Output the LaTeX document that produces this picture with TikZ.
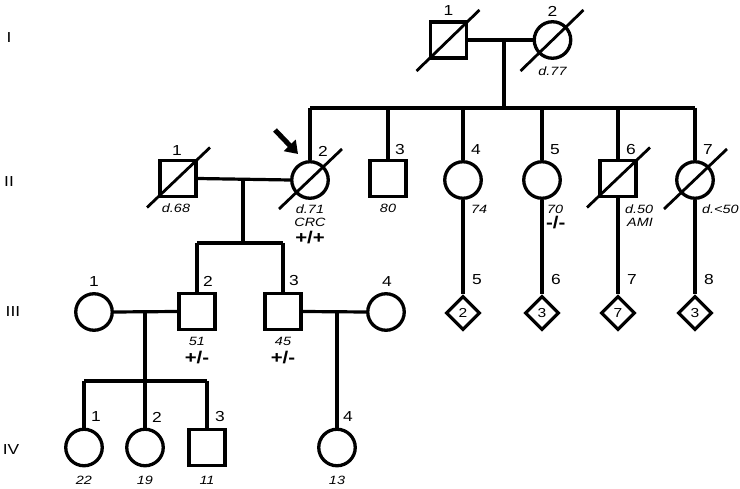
\documentclass[tikz,border=0pt]{standalone}
\usepackage{fontspec}
\setmainfont{Liberation Sans}[FakeStretch=1.2]
\usetikzlibrary{shapes.geometric,arrows.meta}
\begin{document}
\begin{tikzpicture}[x=1pt,y=-1pt,
 lw/.style={line width=3.2pt},
 male/.style={draw,rectangle,minimum size=36pt,inner sep=0pt,line width=3.3pt},
 female/.style={draw,circle,minimum size=36.5pt,inner sep=0pt,line width=3.3pt},
 unk/.style={draw,diamond,minimum size=34pt,inner sep=0pt,line width=3.2pt,font=\fontsize{13}{13}\selectfont},
 num/.style={font=\fontsize{14.5}{14.5}\selectfont,inner sep=0pt},
 info/.style={font=\fontsize{12}{12}\selectfont\itshape,inner sep=0pt},
 geno/.style={font=\fontsize{17}{17}\selectfont\bfseries,inner sep=0pt},
 gen/.style={font=\fontsize{14.5}{14.5}\selectfont,inner sep=0pt},
 slash/.style={line width=2.8pt},
 pointer/.style={line width=5pt,-{Triangle[length=12pt,width=16pt]}},
]
\useasboundingbox[fill=white] (0,0) rectangle (740,489);

% generation labels
\node[gen] (gI) at (9,38) {I};
\node[gen] (gII) at (9,182) {II};
\node[gen] (gIII) at (13,312) {III};
\node[gen] (gIV) at (11,450) {IV};

% ---------- Generation I ----------
\node[male] (I1) at (448.5,40) {};
\node[female] (I2) at (552.5,40) {};
\draw[slash] ([shift={(-32,31)}]I1.center) -- ([shift={(31,-30)}]I1.center);
\draw[slash] ([shift={(-32,31)}]I2.center) -- ([shift={(31,-30)}]I2.center);
\node[num] (nI1) at (448.5,11) {1};
\node[num] (nI2) at (552.5,11) {2};
\node[info] (dI2) at (552.5,71) {d.77};
\draw[lw] (I1.east) -- (I2.west);
\coordinate (mI) at (504,40);
\coordinate (sII) at (504,108);
\draw[lw] (mI) -- (sII);

% ---------- Generation II ----------
\node[male] (II1) at (178,178.5) {};
\node[female] (II2) at (310,180) {};
\node[male] (II3) at (388,178.5) {};
\node[female] (II4) at (463,180) {};
\node[female] (II5) at (542,180) {};
\node[male] (II6) at (618,178.5) {};
\node[female] (II7) at (695,180) {};
\draw[lw] (II2.north |- sII) -- (II7.north |- sII);
\foreach \n in {II2,II3,II4,II5,II6,II7}{
  \draw[lw] (\n.north |- sII) -- (\n.north);
}
\foreach \n in {II1,II2,II6,II7}{
  \draw[slash] ([shift={(-31,29)}]\n.center) -- ([shift={(32,-31)}]\n.center);
}
\node[num] (nII1) at (177,151) {1};
\node[num] (nII2) at (323,151) {2};
\node[num] (nII3) at (400,150) {3};
\node[num] (nII4) at (476,150) {4};
\node[num] (nII5) at (555,150) {5};
\node[num] (nII6) at (631,150) {6};
\node[num] (nII7) at (708,150) {7};
\node[info] (dII1) at (176,208) {d.68};
\node[info] (dII2) at (310,209) {d.71};
\node[info] (cII2) at (310,222) {CRC};
\node[geno] (gII2) at (310,238) {+/+};
\node[info] (aII3) at (388,208) {80};
\node[info,anchor=west] (aII4) at (471,209) {74};
\node[info,anchor=west] (aII5) at (547,209) {70};
\node[geno,anchor=west] (gII5) at (546,223) {-/-};
\node[info,anchor=west] (dII6) at (625,209) {d.50};
\node[info,anchor=west] (cII6) at (627,222) {AMI};
\node[info,anchor=west] (dII7) at (702,209) {d.<50};
% proband arrow
\coordinate (arrtail) at (275,130);
\coordinate (arrtip) at (298,154);
\draw[pointer] (arrtail) -- (arrtip);
% marriage II1 - II2
\draw[lw] (II1.east) -- (II2.west);
\coordinate (mII) at (243,178.5);
\coordinate (sIII) at (243,243);
\draw[lw] (mII) -- (sIII);

% ---------- Generation III ----------
\node[female] (III1) at (94,312) {};
\node[male] (III2) at (197,311.5) {};
\node[male] (III3) at (283,311.5) {};
\node[female] (III4) at (386,312) {};
\draw[lw] (III2.north |- sIII) -- (III3.north |- sIII);
\draw[lw] (III2.north |- sIII) -- (III2.north);
\draw[lw] (III3.north |- sIII) -- (III3.north);
\node[num] (nIII1) at (94,282) {1};
\node[num] (nIII2) at (208,281) {2};
\node[num] (nIII3) at (294,281) {3};
\node[num] (nIII4) at (387,282) {4};
\node[info] (aIII2) at (197,341) {51};
\node[geno] (gIII2) at (197,358) {+/-};
\node[info] (aIII3) at (283,341) {45};
\node[geno] (gIII3) at (283,358) {+/-};
% unknown-sex sibships
\node[unk] (III5) at (463,313) {2};
\node[unk] (III6) at (542,313) {3};
\node[unk] (III7) at (618,313) {7};
\node[unk] (III8) at (695,313) {3};
\draw[lw] (II4.south) -- (III5.north);
\draw[lw] (II5.south) -- (III6.north);
\draw[lw] (II6.south) -- (III7.north);
\draw[lw] (II7.south) -- (III8.north);
\node[num] (nIII5) at (477,280) {5};
\node[num] (nIII6) at (556,280) {6};
\node[num] (nIII7) at (632,280) {7};
\node[num] (nIII8) at (709,280) {8};
% marriages III
\draw[lw] (III1.east) -- (III2.west);
\draw[lw] (III3.east) -- (III4.west);
\coordinate (mIIIa) at (145,311.5);
\coordinate (sIV) at (145,381);
\draw[lw] (mIIIa) -- (sIV);
\coordinate (mIIIb) at (337,311.5);

% ---------- Generation IV ----------
\node[female] (IV1) at (84,447.5) {};
\node[female] (IV2) at (145,447.5) {};
\node[male] (IV3) at (207,447.5) {};
\node[female] (IV4) at (337,447.5) {};
\draw[lw] (IV1.north |- sIV) -- (IV3.north |- sIV);
\draw[lw] (IV1.north |- sIV) -- (IV1.north);
\draw[lw] (IV2.north |- sIV) -- (IV2.north);
\draw[lw] (IV3.north |- sIV) -- (IV3.north);
\draw[lw] (mIIIb) -- (IV4.north);
\node[num] (nIV1) at (96,417) {1};
\node[num] (nIV2) at (157,417) {2};
\node[num] (nIV3) at (220,417) {3};
\node[num] (nIV4) at (348,417) {4};
\node[info] (aIV1) at (84,480) {22};
\node[info] (aIV2) at (145,480) {19};
\node[info] (aIV3) at (207,480) {11};
\node[info] (aIV4) at (337,480) {13};
\end{tikzpicture}
\end{document}
